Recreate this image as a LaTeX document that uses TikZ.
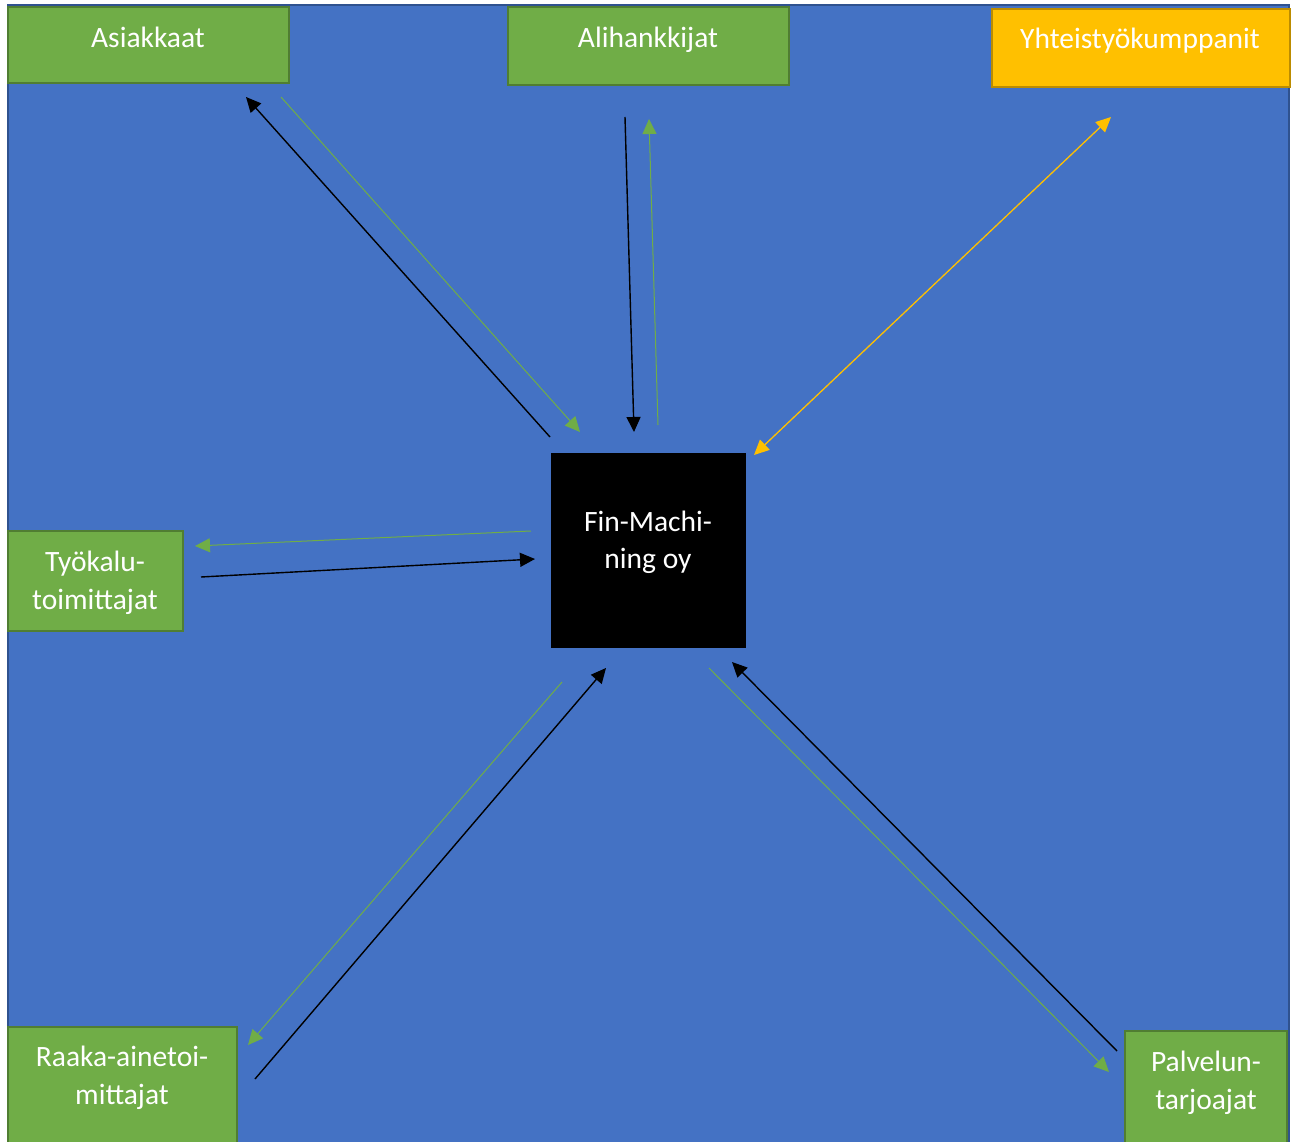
\documentclass[tikz,border=0pt]{standalone}
\usepackage{fontspec}
\setmainfont{Carlito}
\usetikzlibrary{arrows.meta}
\definecolor{bgblue}{HTML}{4472C4}
\definecolor{bgedge}{HTML}{2F528F}
\definecolor{mgreen}{HTML}{70AD47}
\definecolor{mgreenedge}{HTML}{507E32}
\definecolor{morange}{HTML}{FFC000}
\definecolor{morangeedge}{HTML}{BC8C00}
\begin{document}
\begin{tikzpicture}[x=1pt,y=-1pt,
  gbox/.style={rectangle,fill=mgreen,draw=mgreenedge,line width=2.5pt,inner sep=0pt},
  obox/.style={rectangle,fill=morange,draw=morangeedge,line width=2.5pt,inner sep=0pt},
  kbox/.style={rectangle,fill=black,inner sep=0pt},
  lbl/.style={text=white,anchor=base,inner sep=0pt,font=\fontsize{29.5}{38}\selectfont},
  blk/.style={draw=black,line width=1.4pt,-{Triangle[length=15pt,width=14pt]}},
  grn/.style={draw=mgreen,line width=1pt,-{Triangle[length=15pt,width=14pt]}},
  org/.style={draw=morange,line width=1.3pt,{Triangle[length=15pt,width=14pt]}-{Triangle[length=15pt,width=14pt]}}
]
\useasboundingbox (0,0) rectangle (1296,1142);
\fill[white] (0,0) rectangle (1296,1142);
\path[fill=bgblue,draw=bgedge,line width=1.5pt] (8,5) rectangle (1289,1150);

% boxes
\node[gbox,minimum width=281pt,minimum height=76pt] (asi) at (148.5,45) {};
\node[gbox,minimum width=281pt,minimum height=78pt] (ali) at (648.5,46) {};
\node[obox,minimum width=298pt,minimum height=78pt] (yht) at (1141,48) {};
\node[gbox,minimum width=175pt,minimum height=100pt] (tyo) at (95.5,581) {};
\node[gbox,minimum width=229pt,minimum height=130pt] (raa) at (122.5,1092) {};
\node[gbox,minimum width=162pt,minimum height=130pt] (pal) at (1206,1096) {};
\node[kbox,minimum width=195pt,minimum height=195pt] (fm) at (648.5,550.5) {};

% labels
\node[lbl] (asit) at (148,47.5) {Asiakkaat};
\node[lbl] (alit) at (648,47.5) {Alihankkijat};
\node[lbl] (yhtt) at (1140,48.5) {Yhteistyökumppanit};
\node[lbl] (tyot1) at (95,571.5) {Työkalu-};
\node[lbl] (tyot2) at (95,609.5) {toimittajat};
\node[lbl] (raat1) at (122,1066.5) {Raaka-ainetoi-};
\node[lbl] (raat2) at (122,1104.5) {mittajat};
\node[lbl] (palt1) at (1206,1071.5) {Palvelun-};
\node[lbl] (palt2) at (1206,1109.5) {tarjoajat};
\node[lbl] (fmt1) at (648,531.5) {Fin-Machi-};
\node[lbl] (fmt2) at (648,568.5) {ning oy};

% connector end points
\coordinate (a1s) at (550,437);  \coordinate (a1e) at (246,97);
\coordinate (a2s) at (281,97);   \coordinate (a2e) at (580,432);
\coordinate (b1s) at (625,117);  \coordinate (b1e) at (634,432);
\coordinate (b2s) at (658,425);  \coordinate (b2e) at (649,119);
\coordinate (c1s) at (754,455);  \coordinate (c1e) at (1111,117);
\coordinate (d1s) at (531,531);  \coordinate (d1e) at (195,546);
\coordinate (d2s) at (201,577);  \coordinate (d2e) at (535,559);
\coordinate (e1s) at (562,682);  \coordinate (e1e) at (248,1045);
\coordinate (e2s) at (255,1079); \coordinate (e2e) at (606,668);
\coordinate (f1s) at (709,668);  \coordinate (f1e) at (1109,1072);
\coordinate (f2s) at (1117,1051);\coordinate (f2e) at (732,662);

\draw[blk] (a1s) -- (a1e);
\draw[grn] (a2s) -- (a2e);
\draw[blk] (b1s) -- (b1e);
\draw[grn] (b2s) -- (b2e);
\draw[org] (c1s) -- (c1e);
\draw[grn] (d1s) -- (d1e);
\draw[blk] (d2s) -- (d2e);
\draw[grn] (e1s) -- (e1e);
\draw[blk] (e2s) -- (e2e);
\draw[grn] (f1s) -- (f1e);
\draw[blk] (f2s) -- (f2e);
\end{tikzpicture}
\end{document}
